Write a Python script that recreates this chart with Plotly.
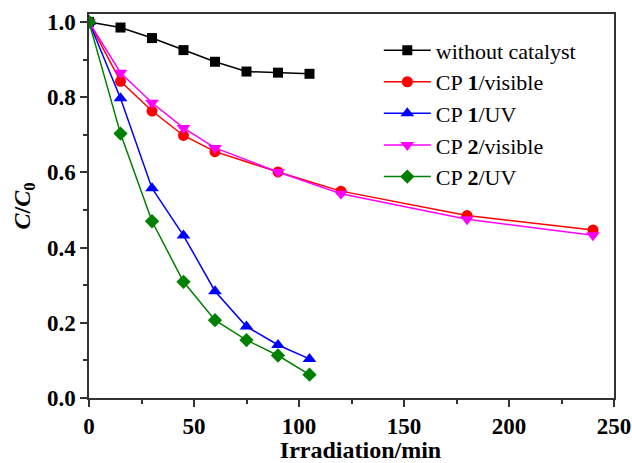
import plotly.graph_objects as go

t_short = [0, 15, 30, 45, 60, 75, 90, 105]
t_long = [0, 15, 30, 45, 60, 90, 120, 180, 240]

without_catalyst = [1.0, 0.985, 0.957, 0.925, 0.894, 0.868, 0.865, 0.862]
cp1_visible = [1.0, 0.842, 0.763, 0.698, 0.655, 0.601, 0.550, 0.485, 0.447]
cp1_uv = [1.0, 0.797, 0.558, 0.432, 0.284, 0.190, 0.141, 0.104]
cp2_visible = [1.0, 0.865, 0.785, 0.718, 0.665, 0.601, 0.543, 0.475, 0.433]
cp2_uv = [1.0, 0.703, 0.470, 0.309, 0.207, 0.154, 0.113, 0.062]

x_ticks = [0, 50, 100, 150, 200, 250]
y_ticks = [0.0, 0.2, 0.4, 0.6, 0.8, 1.0]
y_tick_labels = ["0.0", "0.2", "0.4", "0.6", "0.8", "1.0"]

series = [
    ("without catalyst", t_short, without_catalyst, "black", "square", 10),
    ("CP <b>1</b>/visible", t_long, cp1_visible, "red", "circle", 11),
    ("CP <b>1</b>/UV", t_short, cp1_uv, "blue", "triangle-up", 12),
    ("CP <b>2</b>/visible", t_long, cp2_visible, "magenta", "triangle-down", 12),
    ("CP <b>2</b>/UV", t_short, cp2_uv, "green", "diamond", 11),
]

fig = go.Figure()
for name, xs, ys, color, sym, size in series:
    fig.add_trace(go.Scatter(
        x=xs, y=ys, name=name, mode="lines+markers",
        line=dict(color=color, width=1.5),
        marker=dict(symbol=sym, size=size, color=color),
    ))

font_family = "Liberation Serif, Times New Roman, serif"
fig.update_layout(
    width=632, height=463,
    margin=dict(l=89, r=18, t=14, b=65),
    paper_bgcolor="white", plot_bgcolor="white",
    font=dict(family=font_family, color="black"),
    legend=dict(
        x=0.552, y=0.96, xanchor="left", yanchor="top",
        font=dict(size=22, family=font_family),
        bgcolor="rgba(0,0,0,0)", tracegroupgap=0,
        itemwidth=47,
    ),
    showlegend=True,
)
fig.update_xaxes(
    range=[0, 250], tickvals=x_ticks, ticktext=[f"<b>{v}</b>" for v in x_ticks],
    ticks="outside", ticklen=7, tickwidth=1.5, tickcolor="#333",
    minor=dict(dtick=25, ticks="outside", ticklen=4, tickwidth=1.5, tickcolor="#333"),
    showline=True, linecolor="#333", linewidth=1.5, mirror=True,
    showgrid=False, zeroline=False, automargin=False,
    tickfont=dict(size=23, family=font_family),
    title=dict(text="&nbsp;&nbsp;&nbsp;<b>Irradiation/min</b>", font=dict(size=24, family=font_family), standoff=3),
)
fig.update_yaxes(
    range=[0, 1.021], tickvals=y_ticks, ticktext=[f"<b>{s}</b>" for s in y_tick_labels],
    ticks="outside", ticklen=7, tickwidth=1.5, tickcolor="#333",
    minor=dict(dtick=0.1, ticks="outside", ticklen=4, tickwidth=1.5, tickcolor="#333"),
    showline=True, linecolor="#333", linewidth=1.5, mirror=True,
    showgrid=False, zeroline=False, automargin=False,
    tickfont=dict(size=23, family=font_family),
    title=dict(text="<b><i>C</i>/<i>C</i><sub>0</sub></b>", font=dict(size=24, family=font_family), standoff=10),
)
fig.write_html("out.html")
